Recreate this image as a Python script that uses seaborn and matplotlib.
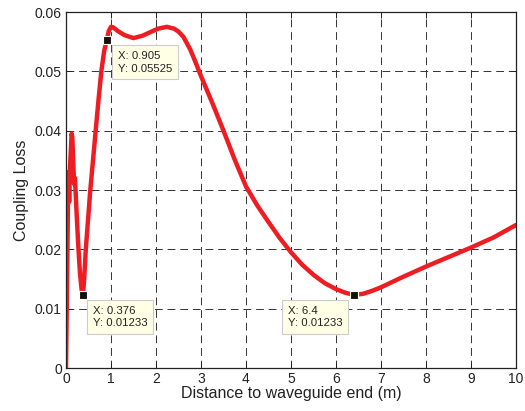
import matplotlib
matplotlib.use("Agg")
import matplotlib.pyplot as plt
import seaborn as sns
import pandas as pd

distance = [0.0, 0.02, 0.04, 0.055, 0.07, 0.09, 0.11, 0.125, 0.14, 0.16, 0.18, 0.20, 0.23, 0.27,
            0.31, 0.35, 0.376, 0.40, 0.44, 0.49, 0.54, 0.60, 0.66, 0.72, 0.785, 0.85, 0.905, 0.95,
            1.0, 1.05, 1.15, 1.3, 1.5, 1.7, 1.9, 2.05, 2.24, 2.4, 2.5, 2.61, 2.76, 2.87, 3.0, 3.25,
            3.5, 3.75, 4.0, 4.25, 4.5, 4.75, 5.0, 5.25, 5.5, 5.75, 6.0, 6.2, 6.4, 6.6, 6.8, 7.0,
            7.5, 8.0, 8.5, 9.0, 9.5, 10.0]
loss = [0.0, 0.012, 0.026, 0.033, 0.028, 0.034, 0.037, 0.0395, 0.039, 0.035, 0.031, 0.032, 0.027, 0.021,
        0.016, 0.013, 0.01233, 0.0145, 0.020, 0.025, 0.030, 0.035, 0.040, 0.045, 0.050, 0.0535, 0.05525, 0.0568,
        0.0575, 0.0574, 0.0568, 0.0561, 0.0556, 0.0560, 0.0567, 0.0572, 0.0575, 0.0572, 0.0567, 0.0558, 0.0537, 0.0517, 0.0492, 0.0447,
        0.0400, 0.0351, 0.0306, 0.0274, 0.0246, 0.0219, 0.0195, 0.0174, 0.0157, 0.0143, 0.0133, 0.0127, 0.01233, 0.0125, 0.0130, 0.0136,
        0.0154, 0.0171, 0.0187, 0.0203, 0.0220, 0.0241]

tip_x = [0.905, 0.376, 6.4]
tip_y = [0.05525, 0.01233, 0.01233]
tip_labels = ["X: 0.905\nY: 0.05525", "X: 0.376\nY: 0.01233", "X: 6.4\nY: 0.01233"]
tip_offsets = [(11, -11), (10, -11), (-66, -11)]

x_ticks = [0, 1, 2, 3, 4, 5, 6, 7, 8, 9, 10]
y_ticks = [0, 0.01, 0.02, 0.03, 0.04, 0.05, 0.06]
y_tick_labels = ["0", "0.01", "0.02", "0.03", "0.04", "0.05", "0.06"]

sns.set_theme(style="white")
plt.rcParams['font.family'] = ['Liberation Sans', 'DejaVu Sans']

fig = plt.figure(figsize=(5.25, 4.11), dpi=100)
ax = fig.add_axes([66/525, 43/411, 450/525, 356/411])

df = pd.DataFrame({"Distance": distance, "Loss": loss})
sns.lineplot(data=df, x="Distance", y="Loss", ax=ax, color="#EE1D23", linewidth=3.2,
             estimator=None, sort=False)
ax.lines[-1].set_solid_joinstyle("round")
ax.lines[-1].set_solid_capstyle("round")

for x, y, lab, off in zip(tip_x, tip_y, tip_labels, tip_offsets):
    ax.plot([x], [y], marker="s", markersize=6, color="#111111",
            markeredgecolor="#FFFFE1", markeredgewidth=0.8, zorder=5)
    ax.annotate(lab, xy=(x, y), xytext=off, textcoords="offset pixels",
                ha="left", va="top", fontsize=8.2, color="#222222", linespacing=1.3,
                bbox=dict(boxstyle="square,pad=0.5", facecolor="#FFFFE6",
                          edgecolor="#CCCCCC", linewidth=0.8), zorder=6)

ax.set_xlim(0, 10)
ax.set_ylim(0, 0.06)
ax.set_xticks(x_ticks)
ax.set_yticks(y_ticks)
ax.set_xticklabels([str(t) for t in x_ticks])
ax.set_yticklabels(y_tick_labels)
ax.grid(True, color="#333333", linestyle=(0, (8, 5)), linewidth=0.7)
ax.tick_params(direction="in", length=4, width=0.7, colors="#222222", labelsize=10,
               top=True, right=True, bottom=True, left=True, pad=3)
for s in ax.spines.values():
    s.set_color("#222222")
    s.set_linewidth(0.9)
ax.set_xlabel("Distance to waveguide end (m)", fontsize=11.5, color="#222222", labelpad=0)
ax.set_ylabel("Coupling Loss", fontsize=11.5, color="#222222", labelpad=4)

fig.savefig("out.png", dpi=100)
